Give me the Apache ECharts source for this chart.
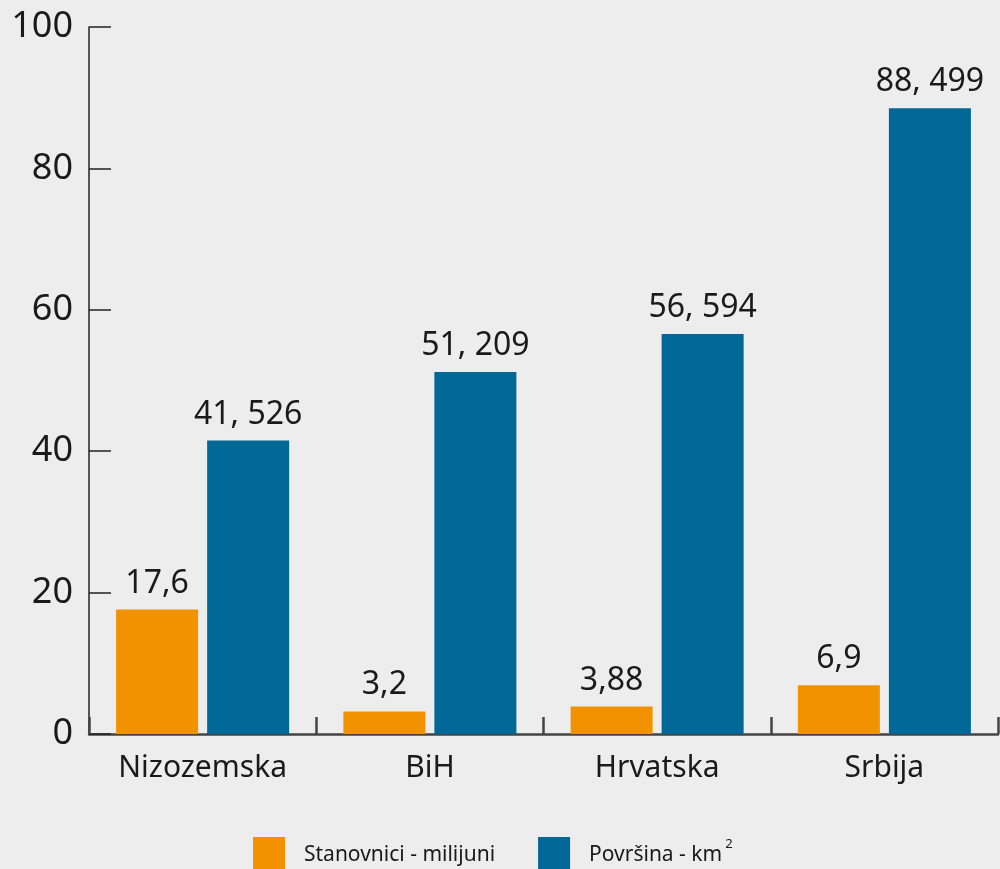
<!DOCTYPE html>
<html>
<head>
<meta charset="utf-8">
<script src="https://cdn.jsdelivr.net/npm/echarts@6/dist/echarts.min.js"></script>
<style>
  html, body { margin: 0; padding: 0; background: #ededed; }
  #chart { width: 1000px; height: 869px; }
</style>
</head>
<body>
<div id="chart"></div>
<script>
  // podaci
  const categories = ['Nizozemska', 'BiH', 'Hrvatska', 'Srbija'];
  const stanovnici = [17.6, 3.2, 3.88, 6.9];
  const stanovniciLabels = ['17,6', '3,2', '3,88', '6,9'];
  const povrsina = [41.526, 51.209, 56.594, 88.499];
  const povrsinaLabels = ['41, 526', '51, 209', '56, 594', '88, 499'];
  const yTicks = [0, 20, 40, 60, 80, 100];

  const FONT = '"Noto Sans", sans-serif';
  const TXT = '#1a1a1a';

  const myChart = echarts.init(document.getElementById('chart'));
  const option = {
    backgroundColor: '#ededed',
    animation: false,
    textStyle: { fontFamily: FONT, color: TXT },
    grid: { left: 89, right: 2, top: 27, bottom: 135 },
    legend: {
      left: 253,
      top: 837,
      padding: 0,
      itemWidth: 32,
      itemHeight: 36,
      itemGap: 43,
      icon: 'rect',
      textStyle: {
        fontSize: 21, color: TXT, fontFamily: FONT, padding: [0, 0, 0, 14],
        rich: {
          sup: { fontSize: 13, color: TXT, fontFamily: FONT, verticalAlign: 'top', padding: [0, 0, 22, 3] }
        }
      },
      formatter: function (name) {
        if (name === 'Površina - km2') return 'Površina - km{sup|2}';
        return name;
      }
    },
    xAxis: {
      type: 'category',
      data: categories,
      axisLine: { lineStyle: { color: '#444', width: 2.5 } },
      axisTick: { show: true, inside: true, length: 17, lineStyle: { color: '#444', width: 2.5 } },
      axisLabel: { fontSize: 30, color: TXT, margin: 19, fontFamily: FONT }
    },
    yAxis: {
      type: 'value',
      min: yTicks[0],
      max: yTicks[yTicks.length - 1],
      interval: 20,
      splitLine: { show: false },
      axisLine: { show: true, lineStyle: { color: '#222', width: 1.5 } },
      axisTick: { show: true, inside: true, length: 22, lineStyle: { color: '#222', width: 1.5 } },
      axisLabel: { fontSize: 36, color: TXT, margin: 16, fontFamily: FONT }
    },
    series: [
      {
        name: 'Stanovnici - milijuni',
        type: 'bar',
        data: stanovnici,
        barWidth: 82,
        barGap: '11%',
        itemStyle: { color: '#f39200' },
        label: {
          show: true, position: 'top', distance: 10,
          fontSize: 32, color: TXT, fontFamily: FONT,
          formatter: p => stanovniciLabels[p.dataIndex]
        }
      },
      {
        name: 'Površina - km2',
        type: 'bar',
        data: povrsina,
        barWidth: 82,
        barGap: '11%',
        itemStyle: { color: '#006896' },
        label: {
          show: true, position: 'top', distance: 10,
          fontSize: 32, color: TXT, fontFamily: FONT,
          formatter: p => povrsinaLabels[p.dataIndex]
        }
      }
    ]
  };
  myChart.setOption(option);
</script>
</body>
</html>
